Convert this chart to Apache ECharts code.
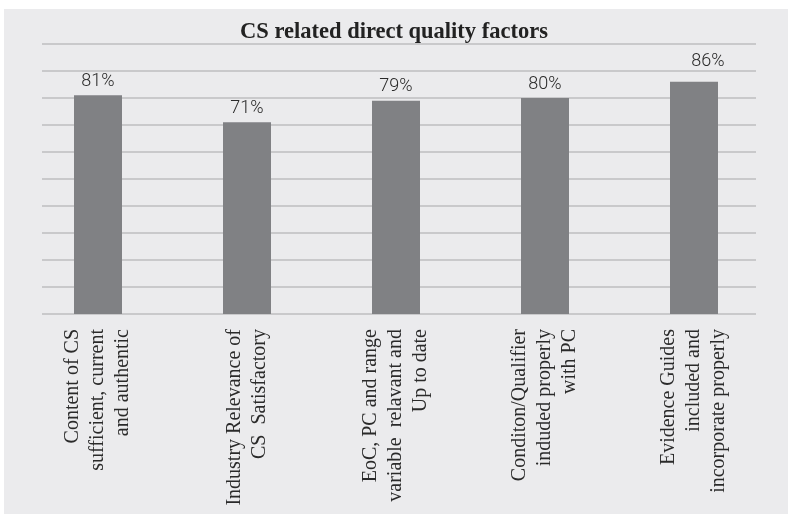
<!DOCTYPE html>
<html>
<head>
<meta charset="utf-8">
<title>CS related direct quality factors</title>
<script src="https://cdn.jsdelivr.net/npm/echarts@6/dist/echarts.min.js"></script>
<style>
  html, body { margin: 0; padding: 0; background: #ffffff; }
  #chart { width: 788px; height: 514px; }
</style>
</head>
<body>
<div id="chart"></div>
<script>
// Categories (multi-line axis labels) and percentage values
const categories = [
  'Content of CS\nsufficient, current\nand authentic',
  'Industry Relevance of\nCS  Satisfactory',
  'EoC, PC and range\nvariable  relavant and\nUp to date',
  'Conditon/Qualifier\ninduded properly\nwith PC',
  'Evidence Guides\nincluded and\nincorporate properly'
];
const values = [81, 71, 79, 80, 86];
const valueAxisMin = 0;
const valueAxisMax = 100;
const valueAxisStep = 10;

const chart = echarts.init(document.getElementById('chart'), null, { renderer: 'canvas' });

const barData = values.map(function (v, i) {
  const item = { value: v };
  if (i === 4) {
    item.label = { offset: [14, -6] };
  }
  return item;
});

chart.setOption({
  animation: false,
  backgroundColor: '#ffffff',
  graphic: [{
    type: 'rect',
    z: -10,
    shape: { x: 4, y: 9, width: 784, height: 505 },
    style: { fill: '#ebebed' }
  }],
  title: {
    text: 'CS related direct quality factors',
    left: 'center',
    top: 16,
    textStyle: {
      fontFamily: 'Liberation Serif',
      fontWeight: 'bold',
      fontSize: 22.5,
      color: '#222222'
    }
  },
  grid: [
    // bars
    { left: 23.5, right: 19.5, top: 44, bottom: 200, containLabel: false },
    // horizontal gridlines
    { left: 42, right: 32, top: 44, bottom: 200, containLabel: false }
  ],
  xAxis: [{
    type: 'category',
    gridIndex: 0,
    data: categories,
    axisLine: { show: false },
    axisTick: { show: false },
    axisLabel: {
      interval: 0,
      rotate: 90,
      margin: 15,
      align: 'right',
      fontFamily: 'Liberation Serif',
      fontSize: 20,
      lineHeight: 25,
      color: '#2a2a2a'
    }
  }, {
    type: 'category',
    gridIndex: 1,
    data: categories,
    show: false
  }],
  yAxis: [{
    type: 'value',
    gridIndex: 0,
    min: valueAxisMin,
    max: valueAxisMax,
    interval: valueAxisStep,
    show: false,
    splitLine: { show: false }
  }, {
    type: 'value',
    gridIndex: 1,
    min: valueAxisMin,
    max: valueAxisMax,
    interval: valueAxisStep,
    axisLine: { show: false },
    axisTick: { show: false },
    axisLabel: { show: false },
    splitLine: { show: true, lineStyle: { color: '#c9c9cb', width: 2 } }
  }],
  series: [{
    type: 'bar',
    xAxisIndex: 0,
    yAxisIndex: 0,
    data: barData,
    barWidth: 48,
    z: 5,
    itemStyle: { color: '#808184' },
    label: {
      show: true,
      position: 'top',
      distance: 5,
      formatter: '{c}%',
      fontFamily: 'Roboto',
      fontWeight: 300,
      fontSize: 18,
      color: '#2a2a2a'
    }
  }]
});
</script>
</body>
</html>
